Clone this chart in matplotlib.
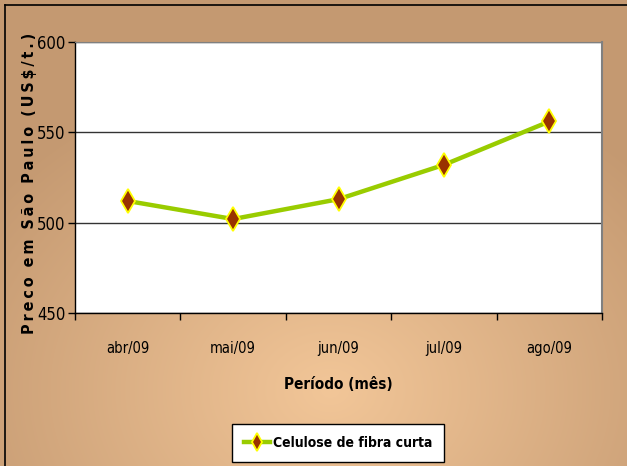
import numpy as np
import matplotlib
matplotlib.use("Agg")
import matplotlib.pyplot as plt
from matplotlib.lines import Line2D
from matplotlib import font_manager

months = ["abr/09", "mai/09", "jun/09", "jul/09", "ago/09"]
prices = [512, 502, 513, 532, 556]
yticks = [450, 500, 550, 600]
series_name = "Celulose de fibra curta"
y_title = "Preco em São Paulo (US$/t.)"

# prefer a condensed sans face when one is installed
cond = [f for f in font_manager.fontManager.ttflist
        if f.stretch in ("condensed", "semi-condensed", "extra-condensed")
        or "Narrow" in f.name or "Condensed" in f.name]
if any(f.name == "Liberation Sans Narrow" for f in cond):
    plt.rcParams["font.family"] = ["Liberation Sans Narrow", "DejaVu Sans"]
elif any(f.name == "DejaVu Sans" for f in cond):
    plt.rcParams["font.family"] = ["DejaVu Sans"]
    plt.rcParams["font.stretch"] = "condensed"
else:
    plt.rcParams["font.family"] = ["Liberation Sans", "DejaVu Sans"]

W, H = 627, 466
fig = plt.figure(figsize=(W / 100, H / 100), dpi=100)

# radial tan background, lighter towards the lower middle
bg = fig.add_axes([0, 0, 1, 1], zorder=-10)
yy, xx = np.mgrid[0:H, 0:W]
r = np.sqrt(((xx - 330) / 420.0) ** 2 + ((yy - 390) / 330.0) ** 2)
r = np.clip(r, 0, 1)
inner = np.array([242, 198, 152]) / 255.0
outer = np.array([196, 153, 113]) / 255.0
img = inner[None, None, :] * (1 - r[..., None]) + outer[None, None, :] * r[..., None]
bg.imshow(img, aspect="auto", extent=[0, W, H, 0])
bg.set_axis_off()

# outer chart frame
fig.add_artist(Line2D([5 / W, 5 / W], [0, 1 - 5 / H], color="black", lw=1.2))
fig.add_artist(Line2D([5 / W, 1], [1 - 5 / H, 1 - 5 / H], color="black", lw=1.2))

ax = fig.add_axes([75 / W, 1 - 313 / H, (602 - 75) / W, (313 - 42) / H])
ax.set_facecolor("white")
x = np.arange(len(months))
line, = ax.plot(x, prices, color="#99CC00", lw=3.2, marker="d", markersize=12.5,
                markerfacecolor="#993300", markeredgecolor="#FFFF00",
                markeredgewidth=1.3, zorder=5, label=series_name)

ax.set_xlim(-0.5, len(months) - 0.5)
ax.set_ylim(450, 600)
ax.set_yticks(yticks)
ax.set_yticklabels([str(v) for v in yticks], fontsize=12)
ax.yaxis.grid(True, color="#333333", lw=1.0)
ax.set_axisbelow(True)

ax.set_xticks(x)
ax.set_xticklabels(months, fontsize=10.5)
ax.set_xticks(np.arange(-0.5, len(months), 1.0), minor=True)
ax.tick_params(axis="x", which="major", length=0, pad=20)
ax.tick_params(axis="x", which="minor", length=5, width=1, color="black", direction="out")
ax.tick_params(axis="y", length=5, width=1, color="black", direction="out", pad=2)

for s in ("left", "bottom"):
    ax.spines[s].set_color("black")
    ax.spines[s].set_linewidth(1.0)
ax.spines["top"].set_color("#808080")
ax.spines["right"].set_color("#808080")
ax.spines["right"].set_linewidth(1.5)

ax.set_xlabel("Período (mês)", fontsize=11, fontweight="bold", labelpad=15)

# letter-spaced axis title: thin spaces inside words, wider gaps between words
spaced = "  ".join("\u2009".join(word) for word in y_title.split(" "))
ax.set_ylabel(spaced, fontsize=11.5, fontweight="bold")
ax.yaxis.set_label_coords(-38 / (602 - 75), 0.48)

leg = fig.legend(handles=[line], loc="center", bbox_to_anchor=(338 / W, 1 - 443 / H),
                 frameon=True, fancybox=False, edgecolor="black", framealpha=1,
                 prop={"size": 10, "weight": "bold"}, handlelength=1.9,
                 handletextpad=0.15, borderpad=0.85, borderaxespad=0,
                 markerscale=0.7)
leg.get_frame().set_linewidth(1.0)

fig.savefig("out.png", dpi=100)
